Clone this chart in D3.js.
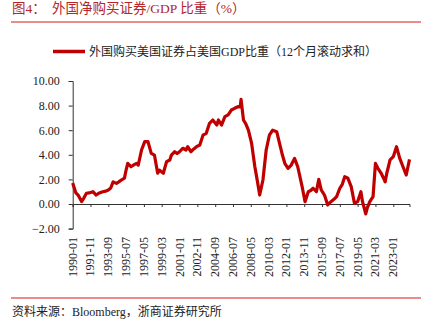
<!DOCTYPE html>
<html><head><meta charset="utf-8">
<script src="https://cdn.jsdelivr.net/npm/d3@7/dist/d3.min.js"></script>
<style>
html,body{margin:0;padding:0;background:#fff;}
svg{display:block;}
</style></head>
<body><svg id="c" width="435" height="328"></svg>
<script>
const titleLabel = "图4：";
const title = "外国净购买证券/GDP 比重（%）";
const seriesName = "外国购买美国证券占美国GDP比重（12个月滚动求和）";
const source = "资料来源：Bloomberg，浙商证券研究所";
const yTicks = [-2, 0, 2, 4, 6, 8, 10];
const xTickLabels = ["1990-01","1991-11","1993-09","1995-07","1997-05","1999-03","2001-01","2002-11","2004-09","2006-07","2008-05","2010-03","2012-01","2013-11","2015-09","2017-07","2019-05","2021-03","2023-01"];
const months = ["1990-01","1990-03","1990-05","1990-08","1990-12","1991-03","1991-06","1991-09","1992-02","1992-06","1992-10","1993-02","1993-06","1993-09","1993-12","1994-03","1994-07","1994-10","1995-01","1995-05","1995-07","1995-09","1996-01","1996-05","1996-08","1996-10","1997-02","1997-06","1997-10","1998-02","1998-06","1998-10","1998-12","1999-05","1999-09","2000-01","2000-03","2000-07","2000-10","2001-01","2001-05","2001-09","2001-11","2002-03","2002-07","2002-10","2003-02","2003-06","2003-10","2004-02","2004-06","2004-11","2005-01","2005-05","2005-09","2006-01","2006-05","2006-09","2007-01","2007-04","2007-05","2007-08","2007-11","2008-02","2008-06","2008-10","2009-01","2009-04","2009-08","2009-12","2010-04","2010-08","2011-01","2011-05","2011-08","2011-11","2012-03","2012-07","2012-11","2013-03","2013-08","2013-12","2014-04","2014-07","2014-10","2015-02","2015-05","2015-08","2015-12","2016-04","2016-08","2016-12","2017-03","2017-07","2017-10","2018-01","2018-05","2018-09","2019-01","2019-05","2019-09","2019-11","2020-03","2020-05","2020-08","2020-12","2021-03","2021-06","2021-10","2022-01","2022-03","2022-05","2022-09","2023-01","2023-05","2023-09","2024-01","2024-05","2024-09"];
const values = [1.7,1.3,0.9,0.7,0.2,0.5,0.87,0.9,1.0,0.73,0.9,1.0,1.05,1.14,1.3,1.8,1.68,1.8,1.95,2.1,2.76,3.3,3.03,3.2,3.3,3.17,4.39,5.07,5.07,4.12,3.98,2.5,2.76,2.5,3.44,3.58,3.98,4.25,4.1,4.25,4.53,4.39,4.66,4.25,4.5,4.66,4.8,5.6,5.75,6.56,6.83,6.42,6.83,6.42,7.1,7.24,7.64,7.78,7.91,7.9,8.51,6.83,6.5,6.0,4.93,3.03,1.9,0.73,1.95,4.39,5.6,6.0,5.88,4.8,4.0,3.31,2.9,3.17,3.71,3.03,1.54,0.19,1.0,1.1,1.28,1.0,2.0,1.14,0.73,-0.08,0.19,0.4,0.6,1.28,1.6,2.22,2.09,1.41,0.06,0.19,1.0,0.19,-0.81,-0.3,0.19,0.6,3.3,2.9,2.5,2.1,1.8,2.5,3.58,3.85,4.66,3.71,3.03,2.36,3.63];

const parse = d3.timeParse("%Y-%m");
const data = months.map((m, i) => ({d: parse(m), v: values[i]}));

const svg = d3.select("#c");
const serif = "'Liberation Serif','Times New Roman','Noto Sans CJK SC',serif";
const red = "#C00000";

// title
svg.append("text").attr("x", 12).attr("y", 12.5).attr("font-family", serif)
  .attr("font-size", 13.5).attr("fill", "#b3262a").text(titleLabel);
svg.append("text").attr("x", 52).attr("y", 12.5).attr("font-family", serif)
  .attr("font-size", 13.5).attr("fill", "#b3262a").text(title);
svg.append("line").attr("x1", 11).attr("x2", 421).attr("y1", 22).attr("y2", 22)
  .attr("stroke", "#e06666").attr("stroke-width", 1.5);

// legend
svg.append("line").attr("x1", 53).attr("x2", 85).attr("y1", 51.5).attr("y2", 51.5)
  .attr("stroke", red).attr("stroke-width", 3.5);
svg.append("text").attr("x", 89).attr("y", 55.5).attr("font-family", serif)
  .attr("font-size", 12).attr("fill", "#222").text(seriesName);

const x = d3.scaleTime().domain([parse("1990-01"), parse("2024-09")]).range([72.7, 409.5]);
const y = d3.scaleLinear().domain([-2, 10]).range([228.6, 81]);

// y axis
const ya = svg.append("g").attr("transform", "translate(72.7,0)")
  .call(d3.axisLeft(y).tickValues(yTicks).tickFormat(d3.format(".2f")).tickSizeOuter(0).tickSize(4));
ya.select(".domain").attr("stroke", "#333");
ya.selectAll(".tick line").attr("stroke", "#333");
ya.selectAll("text").attr("font-family", serif).attr("font-size", 12).attr("fill", "#222").attr("x", -13);

// x axis at zero
const xa = svg.append("g").attr("transform", `translate(0,${y(0)})`)
  .call(d3.axisBottom(x).tickValues(xTickLabels.map(parse)).tickFormat("").tickSizeOuter(0).tickSize(3));
xa.select(".domain").attr("stroke", "#333");
xa.selectAll(".tick line").attr("stroke", "#333");

// x labels rotated below chart
svg.append("g").selectAll("text").data(xTickLabels).join("text")
  .attr("transform", d => `translate(${x(parse(d)) + 4},237) rotate(-90)`)
  .attr("text-anchor", "end").attr("font-family", serif).attr("font-size", 12)
  .attr("fill", "#222").text(d => d);

// line
svg.append("path").datum(data)
  .attr("d", d3.line().x(d => x(d.d)).y(d => y(d.v)))
  .attr("fill", "none").attr("stroke", red).attr("stroke-width", 3.2).attr("stroke-linejoin", "round");

// bottom
svg.append("line").attr("x1", 11).attr("x2", 421).attr("y1", 298).attr("y2", 298)
  .attr("stroke", "#e06666").attr("stroke-width", 1.5);
svg.append("text").attr("x", 12).attr("y", 316).attr("font-family", serif)
  .attr("font-size", 12).attr("fill", "#222").text(source);
</script></body></html>
